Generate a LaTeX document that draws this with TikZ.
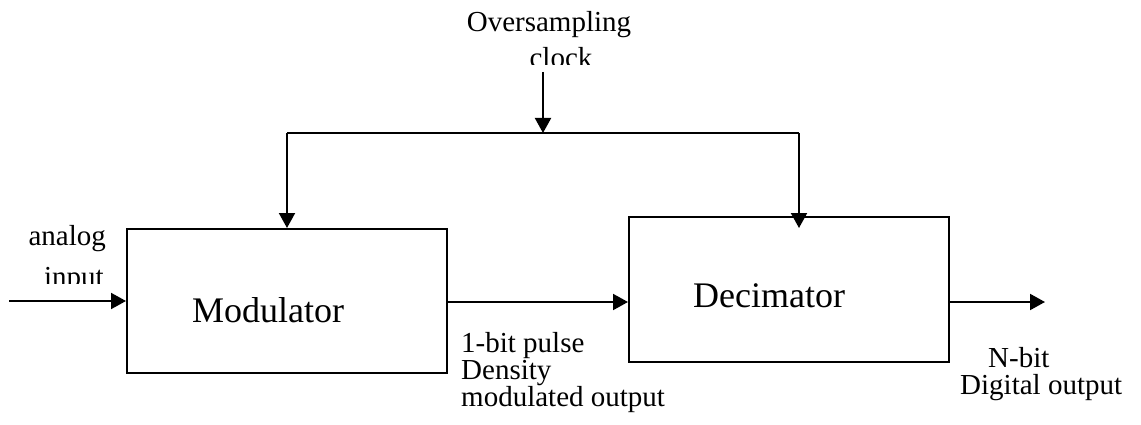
\documentclass[tikz,border=0pt]{standalone}
\usepackage{fontspec}
\setmainfont{Liberation Serif}
\usetikzlibrary{arrows.meta}
\tikzset{
  ln/.style={line width=2pt, black},
  arr/.style={ln, -{Triangle[length=15pt,width=16pt]}},
  blk/.style={draw, line width=2pt, inner sep=0pt},
  small/.style={font=\fontsize{29}{27}\selectfont, inner sep=0pt},
  big/.style={font=\fontsize{36}{42}\selectfont, inner sep=0pt}
}
\begin{document}
\begin{tikzpicture}[x=1pt,y=-1pt]
\useasboundingbox (0,0) rectangle (1141,425);
% blocks
\node[blk, minimum width=320pt, minimum height=144pt] (mod) at (287,301) {};
\node[blk, minimum width=320pt, minimum height=145pt] (dec) at (789,289.5) {};
\node[big, anchor=base] (modt) at (268,322) {Modulator};
\node[big, anchor=base] (dect) at (769,307) {Decimator};
% labels
\node[small, anchor=base] (over) at (549,32) {Oversampling};
\begin{scope}
  \clip (450,40) rectangle (650,65);
  \node[small, anchor=base] (clkt) at (561,68) {clock};
\end{scope}
\node[small, anchor=base east] (ana) at (106,245) {analog};
\begin{scope}
  \clip (0,255) rectangle (120,283);
  \node[small, anchor=base east] (inp) at (104,286) {input};
\end{scope}
\node[small, align=left, anchor=base west] (pdm) at (461,406) {1-bit pulse\\Density\\modulated output};
\node[small, align=left, anchor=base west] (nbit) at (960,394) {\hspace*{28pt}N-bit\\Digital output};
% coordinates
\coordinate (in) at (9,301);
\coordinate (out) at (1045,302);
\coordinate (clk) at (543,72);
\coordinate (jc) at (543,133);
\coordinate (j1) at (287,133);
\coordinate (j2) at (799,133);
\coordinate (decin) at (799,228);
% connectors
\draw[arr] (in) -- (mod.west);
\draw[arr] (mod.east |- out) -- (dec.west |- out);
\draw[arr] (dec.east |- out) -- (out);
\draw[arr] (clk) -- (jc);
\draw[ln] (j1) -- (j2);
\draw[arr] (j1) -- (mod.north);
\draw[arr] (j2) -- (decin);
\end{tikzpicture}
\end{document}
